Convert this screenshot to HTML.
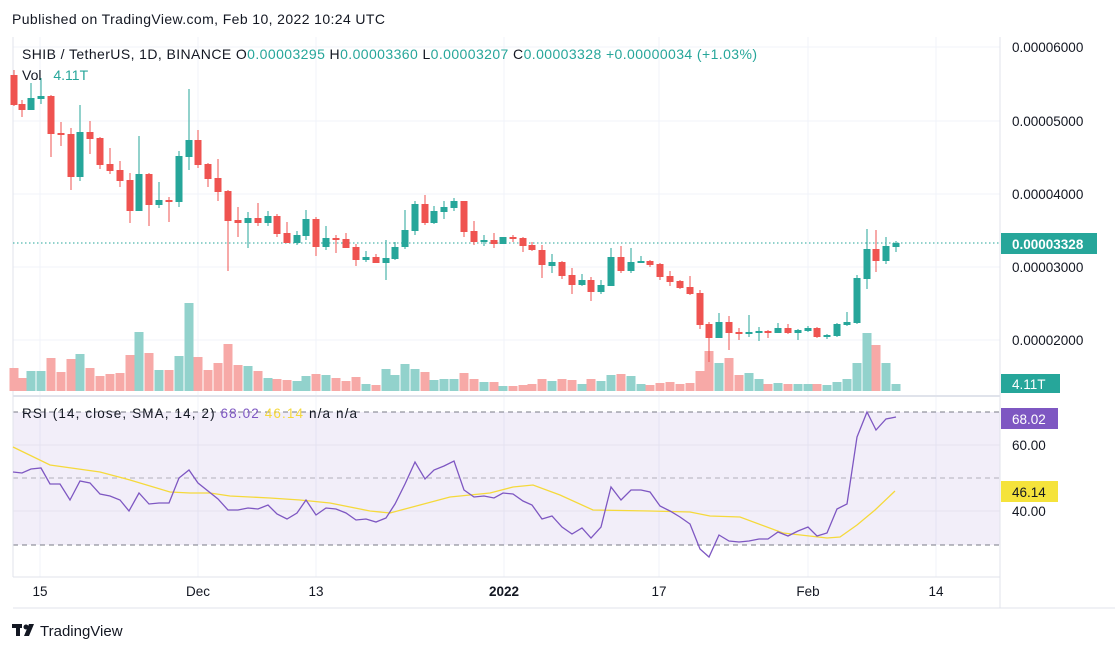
<!DOCTYPE html>
<html><head><meta charset="utf-8"><style>
body{margin:0;background:#fff;width:1115px;height:652px;overflow:hidden;font-family:"Liberation Sans",sans-serif}
svg{position:absolute;left:0;top:0}
</style></head><body>
<svg id="s" width="1115" height="652" xmlns="http://www.w3.org/2000/svg" font-family="Liberation Sans, sans-serif">
<rect width="1115" height="652" fill="#fff"/>
<text x="12" y="24" font-size="14" fill="#131722" textLength="373" lengthAdjust="spacing">Published on TradingView.com, Feb 10, 2022 10:24 UTC</text>
<g stroke="#f0f3fa" stroke-width="1">
<line x1="13" y1="47" x2="1000" y2="47"/><line x1="13" y1="121" x2="1000" y2="121"/><line x1="13" y1="194" x2="1000" y2="194"/><line x1="13" y1="267" x2="1000" y2="267"/><line x1="13" y1="340" x2="1000" y2="340"/>
<line x1="40" y1="37" x2="40" y2="577"/><line x1="198" y1="37" x2="198" y2="577"/><line x1="316" y1="37" x2="316" y2="577"/><line x1="504" y1="37" x2="504" y2="577"/><line x1="659" y1="37" x2="659" y2="577"/><line x1="808" y1="37" x2="808" y2="577"/><line x1="936" y1="37" x2="936" y2="577"/>
</g>
<rect x="13" y="412" width="987" height="133" fill="#7e57c2" fill-opacity="0.1"/>
<g stroke="#e6e2ee"><line x1="13" y1="445" x2="1000" y2="445"/><line x1="13" y1="511" x2="1000" y2="511"/></g>
<g stroke="#787b86" stroke-dasharray="5,4"><line x1="13" y1="412" x2="1000" y2="412"/><line x1="13" y1="545" x2="1000" y2="545"/></g>
<line x1="13" y1="478" x2="1000" y2="478" stroke="#b2b0bb" stroke-dasharray="5,4"/>
<line x1="13" y1="37" x2="13" y2="577" stroke="#e0e3eb"/>
<line x1="1000" y1="37" x2="1000" y2="608" stroke="#e0e3eb"/>
<line x1="13" y1="396" x2="1000" y2="396" stroke="#e0e3eb" stroke-width="2"/>
<line x1="13" y1="577" x2="1000" y2="577" stroke="#e0e3eb"/>
<line x1="13" y1="608" x2="1115" y2="608" stroke="#e0e3eb"/>
<line x1="13" y1="243" x2="1000" y2="243" stroke="#26a69a" stroke-dasharray="1.5,2.5"/>
<g id="vol"></g><g id="cdl"></g>
<polyline fill="none" stroke="#f5d93b" stroke-width="1.3" points="13,447 50,465 100,472 130,480 170,492 190,493 210,493 230,496 270,498 300,500 330,503 370,511 390,513 420,505 450,497 490,493 513,487 533,485 560,495 593,510 650,511 690,512 710,516 740,517 783,533 827,538 840,537 857,525 875,510 895,491"/>
<polyline fill="none" stroke="#7e57c2" stroke-width="1.3" points="13,472 22,473 31,469 41,468 50,484 60,484 70,500 80,481 90,483 100,494 110,496 120,500 129,511 139,493 149,504 159,503 169,503 179,478 189,470 198,483 208,491 218,499 228,510 238,510 248,508 258,509 268,505 277,514 287,519 297,513 306,500 316,515 326,508 336,509 346,513 356,520 366,519 376,522 386,518 395,504 405,484 415,462 425,479 434,470 444,466 454,461 464,490 474,497 484,496 494,498 503,493 513,494 523,501 532,505 542,519 552,516 562,527 572,534 582,528 591,538 601,527 611,487 621,500 631,490 641,490 650,492 660,506 670,511 680,517 690,524 700,549 709,557 719,535 729,541 739,542 749,541 759,539 768,539 778,532 788,536 798,531 808,527 817,536 827,533 837,509 847,504 857,437 867,412 876,430 886,419 896,417"/>
<text x="22" y="59" font-size="14" fill="#131722" textLength="735" lengthAdjust="spacing">SHIB / TetherUS, 1D, BINANCE  O<tspan fill="#26a69a">0.00003295</tspan>  H<tspan fill="#26a69a">0.00003360</tspan>  L<tspan fill="#26a69a">0.00003207</tspan>  C<tspan fill="#26a69a">0.00003328</tspan>  <tspan fill="#26a69a">+0.00000034 (+1.03%)</tspan></text>
<text x="22" y="80" font-size="14" fill="#131722">Vol <tspan fill="#26a69a" dx="8">4.11T</tspan></text>
<text x="22" y="418" font-size="13.5" fill="#131722" textLength="335" lengthAdjust="spacing">RSI (14, close, SMA, 14, 2)  <tspan fill="#7e57c2">68.02</tspan>  <tspan fill="#f5d93b">46.14</tspan>  n/a  n/a</text>
<g font-size="13.5" fill="#131722">
<text x="1012" y="52">0.00006000</text><text x="1012" y="126">0.00005000</text><text x="1012" y="199">0.00004000</text><text x="1012" y="272">0.00003000</text><text x="1012" y="345">0.00002000</text>
<text x="1012" y="450">60.00</text><text x="1012" y="516">40.00</text>
</g>
<rect x="1001" y="233" width="96" height="21" fill="#26a69a"/><text x="1012" y="249" font-size="13.5" fill="#fff" font-weight="bold">0.00003328</text>
<rect x="1001" y="374" width="59" height="19" fill="#26a69a"/><text x="1012" y="389" font-size="13.5" fill="#fff">4.11T</text>
<rect x="1001" y="408" width="57" height="21" fill="#7e57c2"/><text x="1012" y="424" font-size="13.5" fill="#fff">68.02</text>
<rect x="1001" y="481" width="57" height="21" fill="#f5e33b"/><text x="1012" y="497" font-size="13.5" fill="#131722">46.14</text>
<g font-size="13.5" fill="#131722" text-anchor="middle">
<text x="40" y="596">15</text><text x="198" y="596">Dec</text><text x="316" y="596">13</text><text x="504" y="596" font-weight="bold">2022</text><text x="659" y="596">17</text><text x="808" y="596">Feb</text><text x="936" y="596">14</text>
</g>
<g transform="translate(12,624)"><rect x="0" y="0" width="10" height="4" fill="#131722"/><rect x="4" y="0" width="4" height="12" fill="#131722"/><circle cx="14" cy="3" r="2.5" fill="#131722"/><polygon points="17,0 22,0 17,12 12,12" fill="#131722"/></g>
<text x="40" y="636" font-size="15" fill="#131722">TradingView</text>
</svg>
<script>
var c=[[14,75,105,70,106,'r'],[22,104,110,100,117,'r'],[31,110,98,83,110,'g'],[41,99,96,78,104,'g'],[51,96,134,95,157,'r'],[61,133,135,122,146,'r'],[71,134,177,128,190,'r'],[80,177,132,105,181,'g'],[90,132,139,121,154,'r'],[100,138,165,137,169,'r'],[110,164,171,148,174,'r'],[120,170,181,161,187,'r'],[130,180,211,173,223,'r'],[139,211,174,136,211,'g'],[149,174,205,173,226,'r'],[159,205,200,182,208,'g'],[169,200,202,197,222,'r'],[179,202,156,151,207,'g'],[189,157,140,89,170,'g'],[198,140,165,130,168,'r'],[208,164,179,163,187,'r'],[218,178,192,159,201,'r'],[228,191,221,190,271,'r'],[238,220,223,207,237,'r'],[248,223,218,212,248,'g'],[258,218,223,203,226,'r'],[268,223,216,211,226,'g'],[277,216,234,214,237,'r'],[287,233,243,222,243,'r'],[297,243,235,231,245,'g'],[306,236,219,210,240,'g'],[316,219,247,217,256,'r'],[326,247,238,226,250,'g'],[336,238,240,235,253,'r'],[346,239,248,233,248,'r'],[356,247,260,244,266,'r'],[366,260,257,251,262,'g'],[376,257,263,254,263,'r'],[386,263,258,240,280,'g'],[395,259,247,242,260,'g'],[405,247,230,210,249,'g'],[415,231,204,201,235,'g'],[425,204,223,195,225,'r'],[434,223,211,206,224,'g'],[444,212,207,201,219,'g'],[454,208,201,198,211,'g'],[464,201,232,201,237,'r'],[474,231,242,221,245,'r'],[484,242,240,235,246,'g'],[494,240,244,233,248,'r'],[503,244,237,237,244,'g'],[513,237,239,235,242,'r'],[523,238,246,237,252,'r'],[532,245,250,242,251,'r'],[542,250,265,245,278,'r'],[552,266,262,254,273,'g'],[562,262,276,261,279,'r'],[572,275,285,268,294,'r'],[582,285,280,274,286,'g'],[591,280,292,277,301,'r'],[601,292,285,280,294,'g'],[611,286,257,248,286,'g'],[621,257,271,246,273,'r'],[631,271,262,248,273,'g'],[641,263,261,256,263,'g'],[650,261,265,260,267,'r'],[660,264,277,263,280,'r'],[670,276,282,271,286,'r'],[680,281,288,280,289,'r'],[690,287,294,276,295,'r'],[700,293,325,290,329,'r'],[709,324,338,322,362,'r'],[719,338,322,313,338,'g'],[729,322,333,316,350,'r'],[739,332,334,328,340,'r'],[749,334,332,315,337,'g'],[759,333,331,327,341,'g'],[768,331,333,330,338,'r'],[778,333,328,323,333,'g'],[788,328,333,324,334,'r'],[798,333,330,329,340,'g'],[808,331,328,326,332,'g'],[817,328,337,327,338,'r'],[827,337,335,334,339,'g'],[837,336,324,323,337,'g'],[847,325,322,312,326,'g'],[857,323,278,275,324,'g'],[867,279,249,229,289,'g'],[876,249,261,230,272,'r'],[886,261,246,237,264,'g'],[896,247,243,241,252,'g']];
var v=[368,378,371,371,358,372,359,354,368,376,374,373,355,332,353,370,370,356,303,357,370,363,344,365,366,371,378,379,380,381,376,374,375,378,381,377,384,385,369,375,364,369,372,380,379,379,373,379,382,382,386,386,385,384,379,381,379,380,384,379,381,375,374,376,384,385,383,382,384,383,371,351,363,358,375,373,379,384,383,384,384,384,384,385,382,379,363,333,345,363,384];
var ns="http://www.w3.org/2000/svg",cg=document.getElementById('cdl'),vg=document.getElementById('vol');
function el(g,t,a){var e=document.createElementNS(ns,t);for(var k in a)e.setAttribute(k,a[k]);g.appendChild(e);}
c.forEach(function(d,i){var col=d[5]=='g'?'#26a69a':'#ef5350';var vc=d[5]=='g'?'#92d2cc':'#f7a9a7';
el(vg,'rect',{x:d[0]-4.5,y:v[i],width:9,height:391-v[i],fill:vc});
el(cg,'line',{x1:d[0],x2:d[0],y1:d[3],y2:d[4],stroke:col,'stroke-width':1});
var t=Math.min(d[1],d[2]),b=Math.max(d[1],d[2]);if(b-t<2)b=t+2;
el(cg,'rect',{x:d[0]-3.5,y:t,width:7,height:b-t,fill:col});});
</script>
</body></html>
